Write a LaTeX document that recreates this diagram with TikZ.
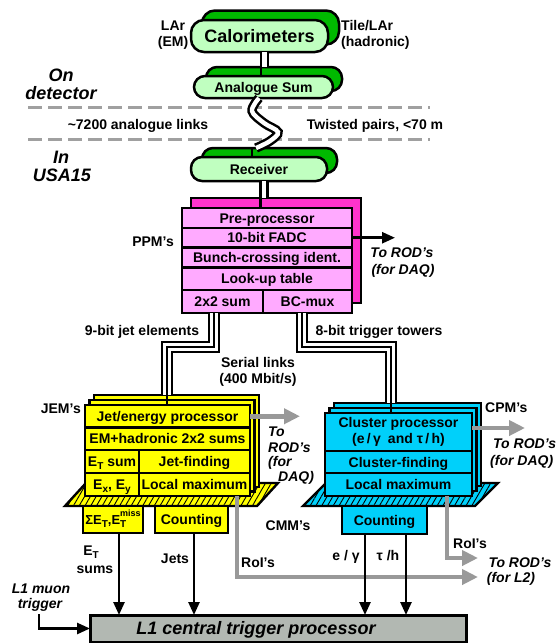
\documentclass[tikz,border=0pt]{standalone}
\usepackage{fontspec}
\setmainfont{Liberation Sans}
\usetikzlibrary{arrows.meta,patterns.meta,calc}
\definecolor{calback}{RGB}{0,185,0}
\definecolor{calfront}{RGB}{192,255,192}
\definecolor{ppmfront}{RGB}{255,170,255}
\definecolor{ppmback}{RGB}{255,51,204}
\definecolor{jemyellow}{RGB}{255,255,0}
\definecolor{cpmcyan}{RGB}{0,208,250}
\definecolor{roigray}{RGB}{153,153,153}
\definecolor{dashgray}{RGB}{160,160,160}
\definecolor{ctpgray}{RGB}{178,184,178}
\newcommand\mysub[1]{\raisebox{-0.45ex}{\fontsize{10}{10}\selectfont #1}}
\newcommand\mysupsub[2]{\rlap{\raisebox{-0.45ex}{\fontsize{10}{10}\selectfont #2}}\raisebox{1.1ex}{\fontsize{9}{9}\selectfont #1}}
\tikzset{
 fnt/.style={font=\bfseries\fontsize{14}{16}\selectfont},
 lbl/.style={fnt, inner sep=0pt, text height=10pt, text depth=0pt},
 ilbl/.style={lbl, font=\bfseries\itshape\fontsize{14}{16}\selectfont},
 bigital/.style={inner sep=0pt, text height=13pt, text depth=0pt, font=\bfseries\itshape\fontsize{18}{20}\selectfont},
 cell/.style={draw, line width=2.6pt, anchor=north west, inner sep=0pt, outer sep=0pt, fnt, text height=10pt, text depth=0pt},
 pill/.style={draw, line width=2.5pt, inner sep=0pt, outer sep=0pt, rounded corners=11pt, fnt, text height=10pt, text depth=0pt},
 dbl/.style={double=white, double distance=4.4pt, line width=2.5pt},
 oneln/.style={line width=2.5pt},
 tripo/.style={double=white, double distance=7.2pt, line width=2.4pt},
 tripi/.style={line width=2.6pt},
 blk/.style={line width=2.6pt, -{Triangle[length=13pt,width=11pt]}},
 gry/.style={draw=roigray, line width=4.5pt, -{Triangle[length=16pt,width=15pt]}},
 dashln/.style={draw=dashgray, line width=3pt, dash pattern=on 14pt off 6pt},
 hatch/.style={draw, line width=2.4pt, pattern={Lines[angle=60,distance=5pt,line width=0.9pt]}, pattern color=black, preaction={fill=#1}},
}
\begin{document}
\begin{tikzpicture}[x=1pt,y=-1pt]
\useasboundingbox (0,0) rectangle (556,643);

% dashed boundaries
\draw[dashln] (28,107) -- (430,107);
\draw[dashln] (28,139) -- (430,139);

% green (on detector / receiver)
\node[pill, fill=calback, minimum width=137pt, minimum height=34pt, rounded corners=13pt] (calback) at (270.5,27.5) {};
\node[pill, fill=calfront, minimum width=137pt, minimum height=32pt, rounded corners=13pt, font=\bfseries\fontsize{18}{20}\selectfont, text height=13pt] (calf) at (259.5,36) {Calorimeters};
\node[pill, fill=calback, minimum width=136pt, minimum height=24pt] (anaback) at (274,79) {};
\node[pill, fill=calfront, minimum width=139pt, minimum height=22pt] (anaf) at (263.5,87) {Analogue Sum};
\node[pill, fill=calback, minimum width=135pt, minimum height=25pt] (recback) at (269.5,160.5) {};
\node[pill, fill=calfront, minimum width=136pt, minimum height=24pt] (recf) at (259,169) {Receiver};

% PPM
\node[cell, fill=ppmback, minimum width=170pt, minimum height=105pt] (ppmback) at (191,198) {};
\node[cell, fill=ppmfront, minimum width=170pt, minimum height=20pt] (ppm1) at (182,208) {Pre-processor};
\node[cell, fill=ppmfront, minimum width=170pt, minimum height=19.5pt] (ppm2) at (182,228) {10-bit FADC};
\node[cell, fill=ppmfront, minimum width=170pt, minimum height=20pt] (ppm3) at (182,247.5) {Bunch-crossing ident.};
\node[cell, fill=ppmfront, minimum width=170pt, minimum height=22.5pt] (ppm4) at (182,267.5) {Look-up table};
\node[cell, fill=ppmfront, minimum width=81pt, minimum height=23pt] (ppm5a) at (182,290) {2x2 sum};
\node[cell, fill=ppmfront, minimum width=89pt, minimum height=23pt] (ppm5b) at (263,290) {BC-mux};

% JEM
\draw[hatch=jemyellow] (65,506) -- (257,506) -- (278,483) -- (86,483) -- cycle;
\node[cell, fill=jemyellow, minimum width=165pt, minimum height=92pt] (jemback2) at (94,395) {};
\node[cell, fill=jemyellow, minimum width=165pt, minimum height=91.5pt] (jemback1) at (89.5,400) {};
\node[cell, fill=jemyellow, minimum width=165pt, minimum height=22.5pt] (jem1) at (85,405) {Jet/energy processor};
\node[cell, fill=jemyellow, minimum width=165pt, minimum height=22.5pt] (jem2) at (85,427.5) {EM+hadronic 2x2 sums};
\node[cell, fill=jemyellow, minimum width=54pt, minimum height=23pt] (jem3a) at (85,450) {E\mysub{T} sum};
\node[cell, fill=jemyellow, minimum width=111pt, minimum height=23pt] (jem3b) at (139,450) {Jet-finding};
\node[cell, fill=jemyellow, minimum width=54pt, minimum height=23pt] (jem4a) at (85,473) {E\mysub{x}, E\mysub{y}};
\node[cell, fill=jemyellow, minimum width=111pt, minimum height=23pt] (jem4b) at (139,473) {Local maximum};
\node[cell, fill=jemyellow, minimum width=60pt, minimum height=27pt, font=\bfseries\fontsize{13}{15}\selectfont] (cmmj1) at (83,506) {ΣE\mysub{T},E\mysupsub{miss}{T}};
\node[cell, fill=jemyellow, minimum width=73pt, minimum height=27pt] (cmmj2) at (155,506) {Counting};

% CPM
\draw[hatch=cpmcyan] (303,506) -- (475,506) -- (498,483) -- (326,483) -- cycle;
\node[cell, fill=cpmcyan, minimum width=147pt, minimum height=83pt] (cpmback2) at (334,403) {};
\node[cell, fill=cpmcyan, minimum width=147pt, minimum height=83pt] (cpmback1) at (329.5,408) {};
\node[cell, fill=cpmcyan, minimum width=147pt, minimum height=38pt] (cpm1) at (325,413) {};
\node[lbl] (cpm1t) at (398.5,422.5) {Cluster processor};
\node[lbl] (cpm1u) at (398.5,438.5) {(e\,/\,γ\enspace and τ\,/\,h)};
\node[cell, fill=cpmcyan, minimum width=147pt, minimum height=22pt] (cpm2) at (325,451) {Cluster-finding};
\node[cell, fill=cpmcyan, minimum width=147pt, minimum height=23pt] (cpm3) at (325,473) {Local maximum};
\node[cell, fill=cpmcyan, minimum width=85pt, minimum height=28pt] (cmmc) at (342,506) {Counting};

% CTP
\node[cell, fill=ctpgray, line width=3pt, minimum width=376pt, minimum height=27pt] (l1) at (90,615) {};
\node[bigital] (l1t) at (256,628) {L1 central trigger processor};

% connectors: double lines
\draw[dbl] ([xshift=5pt]calf.south) -- ([xshift=5pt]calf.south |- anaback.north);
\draw[oneln] ([xshift=1.6pt]calf.south |- anaback.north) -- ([xshift=1.6pt]calf.south |- anaf.north);
\coordinate (tpA) at ([xshift=-4.5pt]anaf.south);
\coordinate (tpB) at ([xshift=-3pt]recf.north |- recback.north);
\draw[dbl] plot[smooth, tension=0.6] coordinates {(tpA) (252,111) (264,123) (278,132) (270,141) (tpB)};
\draw[oneln] ([xshift=-7pt]recf.north |- recback.north) -- ([xshift=-7pt]recf.north);
\draw[dbl] ([xshift=5pt]recf.south) -- ([xshift=5pt]recf.south |- ppmback.north);
\draw[oneln] ([xshift=1.6pt]recf.south |- ppmback.north) -- ([xshift=1.6pt]recf.south |- ppm1.north);

% triple bundles
\draw[tripo] ([xshift=-8.5pt]ppm5a.south) -- ++(0,34) -| ([xshift=-9.5pt]jemback2.north);
\draw[tripi] ([xshift=-8.5pt]ppm5a.south) -- ++(0,34) -| ([xshift=-0.5pt]jem1.north);
\draw[tripo] ([xshift=-5.5pt]ppm5b.south) -- ++(0,34) -| ([xshift=-16.5pt]cpmback2.north);
\draw[tripi] ([xshift=-5.5pt]ppm5b.south) -- ++(0,34) -| ([xshift=-7.5pt]cpm1.north);

% arrows to RODs
\coordinate (dq1) at ($(ppm2.east)+(43,0)$);
\draw[blk] (ppm2.east) -- (dq1);
\coordinate (rodj) at ($(jem1.east)+(50,0)$);
\draw[gry] (jem1.east) -- (rodj);
\coordinate (rodc) at ($(cpm1.east)+(53,-4)$);
\draw[gry] ([yshift=4pt]cpm1.east) -- (rodc);
\coordinate (l2a) at (478,577);
\coordinate (l2b) at (478,558);
\draw[gry] ([xshift=42.5pt]jem4b.south) |- (l2a);
\draw[gry] ([xshift=48.5pt]cpm3.south) |- (l2b);

% arrows to CTP
\draw[blk] ([xshift=6pt]cmmj1.south) -- ([xshift=6pt]cmmj1.south |- l1.north);
\draw[blk] ([xshift=2.5pt]cmmj2.south) -- ([xshift=2.5pt]cmmj2.south |- l1.north);
\draw[blk] ([xshift=-19.5pt]cmmc.south) -- ([xshift=-19.5pt]cmmc.south |- l1.north);
\draw[blk] ([xshift=21.5pt]cmmc.south) -- ([xshift=21.5pt]cmmc.south |- l1.north);
\coordinate (mu) at (39,614);
\draw[blk] (mu) |- (l1.west);

% labels
\node[lbl] (lar1) at (173,25) {LAr};
\node[lbl] (lar2) at (173,41) {(EM)};
\node[lbl, anchor=west] (tile1) at (341,25) {Tile/LAr};
\node[lbl, anchor=west] (tile2) at (341,41) {(hadronic)};
\node[bigital] (ond1) at (61,75) {On};
\node[bigital] (ond2) at (61,93) {detector};
\node[bigital] (usa1) at (61,157) {In};
\node[bigital] (usa2) at (62,175) {USA15};
\node[lbl] (links) at (138,124) {\textasciitilde 7200 analogue links};
\node[lbl] (twist) at (375,124) {Twisted pairs, <70 m};
\node[lbl, anchor=east] (ppml) at (174,241) {PPM's};
\node[ilbl] (dqa) at (402,252) {To ROD's};
\node[ilbl] (dqb) at (403,269) {(for DAQ)};
\node[lbl] (nine) at (142,330) {9-bit jet elements};
\node[lbl] (eight) at (379,330) {8-bit trigger towers};
\node[lbl] (ser1) at (258,362) {Serial links};
\node[lbl] (ser2) at (258,378) {(400 Mbit/s)};
\node[lbl, anchor=east] (jeml) at (81,408) {JEM's};
\node[ilbl, anchor=west] (rj1) at (268,431) {To};
\node[ilbl, anchor=west] (rj2) at (268,447) {ROD's};
\node[ilbl, anchor=west] (rj3) at (268,461) {(for};
\node[ilbl, anchor=west] (rj4) at (278,476) {DAQ)};
\node[lbl, anchor=west] (cpml) at (485,407) {CPM's};
\node[ilbl, anchor=west] (rc1) at (493,443) {To ROD's};
\node[ilbl, anchor=west] (rc2) at (490,460) {(for DAQ)};
\node[lbl] (cmml) at (288,525) {CMM's};
\node[lbl] (ets1) at (91,550) {E\mysub{T}};
\node[lbl] (ets2) at (95,568) {sums};
\node[lbl] (jets) at (175,558) {Jets};
\node[lbl] (roi1) at (258,562) {RoI's};
\node[lbl] (egam) at (346,555) {e / γ};
\node[lbl] (tauh) at (388,555) {τ /h};
\node[lbl] (roi2) at (470,543) {RoI's};
\node[ilbl] (l2a1) at (520,562) {To ROD's};
\node[ilbl] (l2a2) at (511,577) {(for L2)};
\node[ilbl] (mu1) at (41,588) {L1 muon};
\node[ilbl] (mu2) at (40,603) {trigger};
\end{tikzpicture}
\end{document}
